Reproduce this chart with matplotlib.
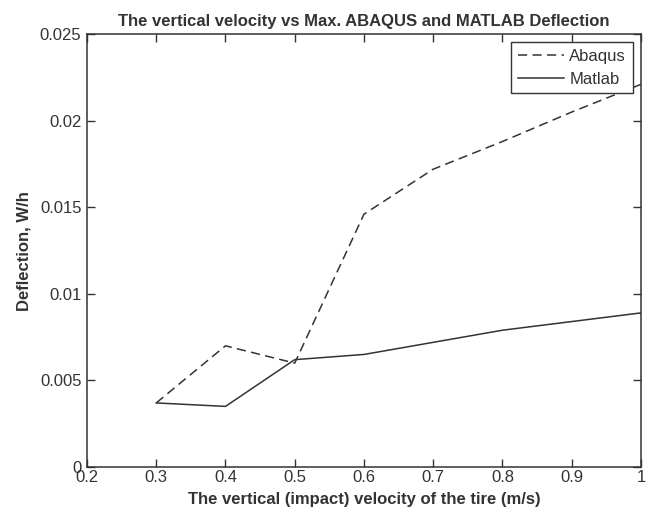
import matplotlib
matplotlib.use('Agg')
import matplotlib.pyplot as plt

velocity = [0.3, 0.4, 0.5, 0.6, 0.7, 0.8, 0.9, 1.0]
abaqus = [0.0037, 0.0070, 0.0060, 0.0146, 0.0172, 0.0188, 0.0205, 0.0221]
matlab = [0.0037, 0.0035, 0.0062, 0.0065, 0.0072, 0.0079, 0.0084, 0.0089]

xticks = [0.2, 0.3, 0.4, 0.5, 0.6, 0.7, 0.8, 0.9, 1.0]
xlabels = ['0.2', '0.3', '0.4', '0.5', '0.6', '0.7', '0.8', '0.9', '1']
yticks = [0, 0.005, 0.01, 0.015, 0.02, 0.025]
ylabels = ['0', '0.005', '0.01', '0.015', '0.02', '0.025']

plt.rcParams['font.family'] = ['Liberation Sans', 'DejaVu Sans']
col = '#333333'

fig = plt.figure(figsize=(6.51, 5.17), dpi=100)
ax = fig.add_axes([0.1336, 0.0967, 0.851, 0.8373])
ax.plot(velocity, abaqus, color=col, lw=1.1, ls=(0, (6, 3.5)), label='Abaqus')
ax.plot(velocity, matlab, color=col, lw=1.1, ls='-', label='Matlab')

ax.set_xlim(0.2, 1.0)
ax.set_ylim(0, 0.025)
ax.set_xticks(xticks)
ax.set_xticklabels(xlabels)
ax.set_yticks(yticks)
ax.set_yticklabels(ylabels)
ax.tick_params(direction='in', top=True, right=True, length=6, width=1, colors=col, labelsize=12)
ax.tick_params(axis='x', pad=2)
ax.tick_params(axis='y', pad=4)
for s in ax.spines.values():
    s.set_color(col)
    s.set_linewidth(1.1)

ax.set_title('The vertical velocity vs Max. ABAQUS and MATLAB Deflection', fontsize=12, fontweight='bold', color=col, pad=6)
ax.set_xlabel('The vertical (impact) velocity of the tire (m/s)', fontsize=12, fontweight='bold', color=col, labelpad=5)
ax.set_ylabel('Deflection, W/h', fontsize=12, fontweight='bold', color=col, labelpad=6)

leg = ax.legend(loc='upper right', fancybox=False, framealpha=1, edgecolor=col, fontsize=12,
                borderaxespad=0.5, borderpad=0.4, handlelength=2.8, handletextpad=0.3, labelspacing=0.45)
leg.get_frame().set_linewidth(1.0)
for t in leg.get_texts():
    t.set_color(col)

fig.savefig('out.png', dpi=100)
